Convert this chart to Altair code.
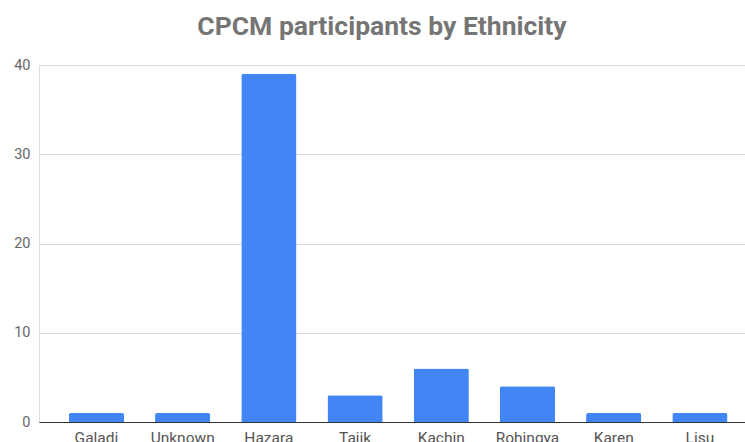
import altair as alt
import pandas as pd

# Participants per ethnicity
ethnicities = ["Galadi", "Unknown", "Hazara", "Tajik", "Kachin", "Rohingya", "Karen", "Lisu"]
participants = [1, 1, 39, 3, 6, 4, 1, 1]

df = pd.DataFrame({"Ethnicity": ethnicities, "Participants": participants})

bars = alt.Chart(df).mark_bar(
    color="#4285F4",
    cornerRadiusTopLeft=2,
    cornerRadiusTopRight=2,
).encode(
    x=alt.X(
        "Ethnicity:N",
        sort=ethnicities,
        title=None,
        scale=alt.Scale(paddingInner=0.36, paddingOuter=0.275, align=0.63),
        axis=alt.Axis(
            labelAngle=0,
            labelFont="Roboto",
            labelFontSize=15.5,
            labelColor="#555555",
            labelPadding=8,
            ticks=False,
            domainColor="#333333",
            domainWidth=1.2,
            grid=False,
        ),
    ),
    y=alt.Y(
        "Participants:Q",
        title=None,
        scale=alt.Scale(domain=[0, 40], nice=False),
        axis=alt.Axis(
            values=[0, 10, 20, 30, 40],
            labelFont="Roboto",
            labelFontSize=14.5,
            labelColor="#666666",
            labelPadding=9,
            ticks=False,
            domain=False,
            gridColor="#d9d9d9",
            gridWidth=1,
        ),
    ),
)

chart = bars.properties(
    width=706,
    height=357,
    title=alt.TitleParams(
        "CPCM participants by Ethnicity",
        font="Roboto",
        fontSize=26.5,
        fontWeight="bold",
        color="#757575",
        anchor="middle",
        offset=17,
        dx=-10,
    ),
    autosize=alt.AutoSizeParams(type="none"),
    padding={"left": 39, "top": 65, "right": 0, "bottom": 20},
).configure_view(stroke=None).configure(background="white")

chart.save("out.html", embed_options={"renderer": "svg", "actions": False})
